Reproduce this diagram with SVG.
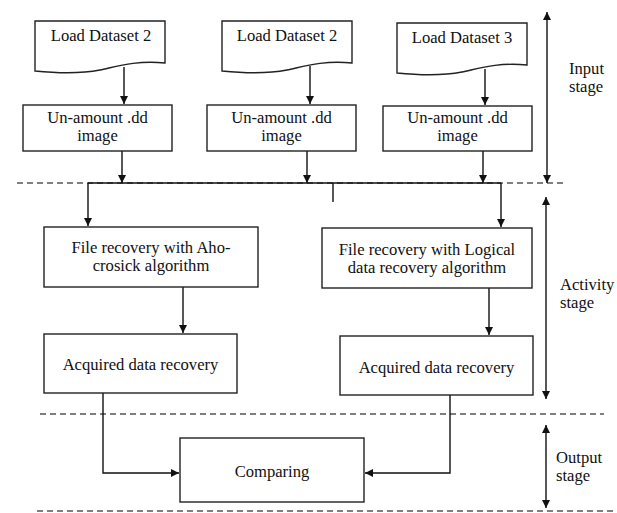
<svg xmlns="http://www.w3.org/2000/svg" width="617" height="513" viewBox="0 0 617 513">
<defs>
<marker id="ah" viewBox="0 0 10 10" refX="10" refY="5" markerWidth="8" markerHeight="8" markerUnits="userSpaceOnUse" orient="auto-start-reverse">
<path d="M0,0 L10,5 L0,10 Z" fill="#111"/>
</marker>
<style>
.box{fill:#fff;stroke:#222;stroke-width:1.4}
text{font-family:'Liberation Serif','DejaVu Serif',serif;font-size:16.6px;fill:#111}
.t{text-anchor:middle}
.c{fill:none;stroke:#111;stroke-width:1.4}
.a{fill:none;stroke:#111;stroke-width:1.4;marker-end:url(#ah)}
.d{fill:none;stroke:#555;stroke-width:1.5;stroke-dasharray:6 4}
</style>
</defs>
<rect width="617" height="513" fill="#fff"/>
<g id="separators">
<line class="d" x1="17" y1="183" x2="567" y2="183"/>
<line class="d" x1="40" y1="414" x2="604" y2="414"/>
<line class="d" x1="37" y1="511" x2="617" y2="511"/>
</g>
<g id="connectors">
<line class="a" x1="124" y1="67" x2="124" y2="104"/>
<line class="a" x1="310" y1="66" x2="310" y2="104"/>
<line class="a" x1="485" y1="69" x2="485" y2="105"/>
<line class="a" x1="122" y1="151" x2="122" y2="183"/>
<line class="a" x1="307" y1="151" x2="307" y2="183"/>
<line class="a" x1="483" y1="151" x2="483" y2="183"/>
<line class="c" x1="88" y1="183" x2="501" y2="183"/>
<line class="a" x1="88" y1="183" x2="88" y2="226"/>
<line class="a" x1="501" y1="183" x2="501" y2="227"/>
<line class="c" x1="333" y1="183" x2="333" y2="202"/>
<line class="a" x1="183" y1="287" x2="183" y2="333"/>
<line class="a" x1="489" y1="288" x2="489" y2="335"/>
<polyline class="a" points="103,393 103,473 179,473"/>
<polyline class="a" points="450,395 450,473 365,473"/>
<line class="a" x1="547" y1="183" x2="547" y2="12" style="marker-start:url(#ah)"/>
<line class="a" x1="546" y1="399" x2="546" y2="197" style="marker-start:url(#ah)"/>
<line class="a" x1="546" y1="508" x2="546" y2="425" style="marker-start:url(#ah)"/>
</g>
<g id="doc1">
<path class="box" d="M35,21 H165 V63 C135,60 115,67 100,70 C80,74 55,73 35,71 Z"/>
<text class="t" x="101" y="41">Load Dataset 2</text>
</g>
<g id="doc2">
<path class="box" d="M222,21 H352 V63 C322,60 302,67 287,70 C267,74 242,73 222,71 Z"/>
<text class="t" x="287" y="41">Load Dataset 2</text>
</g>
<g id="doc3">
<path class="box" d="M397,23 H527 V65 C497,62 477,69 462,72 C442,76 417,75 397,73 Z"/>
<text class="t" x="462" y="43">Load Dataset 3</text>
</g>
<g id="unmount1">
<rect class="box" x="23" y="105" width="149" height="46"/>
<text class="t" x="97.5" y="123">Un-amount .dd</text>
<text class="t" x="97.5" y="141">image</text>
</g>
<g id="unmount2">
<rect class="box" x="207" y="105" width="149" height="46"/>
<text class="t" x="281.5" y="123">Un-amount .dd</text>
<text class="t" x="281.5" y="141">image</text>
</g>
<g id="unmount3">
<rect class="box" x="383" y="106" width="149" height="45"/>
<text class="t" x="457.5" y="123">Un-amount .dd</text>
<text class="t" x="457.5" y="141">image</text>
</g>
<g id="aho">
<rect class="box" x="44" y="227" width="214" height="60"/>
<text class="t" x="151" y="253">File recovery with Aho-</text>
<text class="t" x="151" y="271">crosick algorithm</text>
</g>
<g id="logical">
<rect class="box" x="322" y="228" width="210" height="60"/>
<text class="t" x="427" y="255">File recovery with Logical</text>
<text class="t" x="427" y="273">data recovery algorithm</text>
</g>
<g id="acquired1">
<rect class="box" x="44" y="334" width="193" height="59"/>
<text class="t" x="140.5" y="370">Acquired data recovery</text>
</g>
<g id="acquired2">
<rect class="box" x="340" y="336" width="193" height="59"/>
<text class="t" x="436.5" y="373">Acquired data recovery</text>
</g>
<g id="comparing">
<rect class="box" x="180" y="438" width="184" height="64"/>
<text class="t" x="272" y="477">Comparing</text>
</g>
<g id="labels">
<text x="569" y="74">Input</text>
<text x="569" y="92">stage</text>
<text x="560" y="290">Activity</text>
<text x="560" y="308">stage</text>
<text x="556" y="463">Output</text>
<text x="556" y="481">stage</text>
</g>
</svg>
